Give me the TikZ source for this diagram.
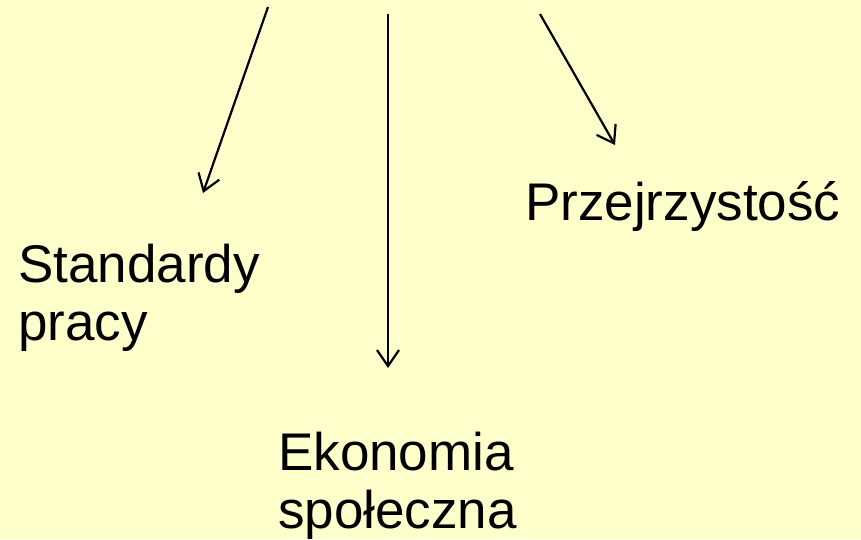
\documentclass[tikz,border=0pt]{standalone}
\usepackage{fontspec}
\setmainfont{Liberation Sans}
\usetikzlibrary{arrows.meta}
\definecolor{bg}{HTML}{FFFFCC}
\begin{document}
\begin{tikzpicture}[x=1pt,y=-1pt,
  lbl/.style={inner sep=0pt,anchor=base west,align=left,font=\fontsize{53}{58}\selectfont},
  conn/.style={line width=2.2pt,-{Straight Barb[length=16pt,width=22pt,line width=2.2pt]}}]
\fill[bg] (0,0) rectangle (861,539);
\useasboundingbox (0,0) rectangle (861,539);
\node[lbl] (std) at (18,340) {Standardy\\pracy};
\node[lbl] (prz) at (525,220) {Przejrzystość};
\node[lbl] (eko) at (278,528) {Ekonomia\\społeczna};
\coordinate (s1) at (268,7);
\coordinate (e1) at (203,193);
\coordinate (s2) at (388,14);
\coordinate (e2) at (388,368);
\coordinate (s3) at (540,14);
\coordinate (e3) at (615,145);
\draw[conn] (s1) -- (e1);
\draw[conn] (s2) -- (e2);
\draw[conn] (s3) -- (e3);
\end{tikzpicture}
\end{document}
